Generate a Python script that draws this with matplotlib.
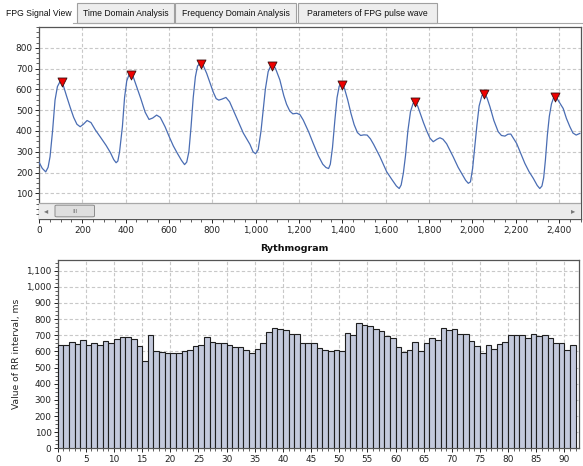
import matplotlib
matplotlib.use('Agg')
import matplotlib.pyplot as plt
from matplotlib.patches import Rectangle, FancyBboxPatch
from matplotlib.ticker import MultipleLocator, FuncFormatter, FixedLocator
import numpy as np

W, H = 583, 466

# ---------------- data ----------------
active_tab = "FPG Signal View"
tab_labels = ["Time Domain Analysis", "Frequency Domain Analysis", "Parameters of FPG pulse wave"]

signal_x = [0, 15, 31, 42, 51, 63, 74, 85, 97, 109, 128, 145, 160, 175, 190, 205, 222, 240, 260, 285,
            310, 330, 345, 356, 364, 372, 385, 395, 405, 415, 425, 435, 450, 470, 490, 508, 525, 543,
            560, 582, 600, 620, 640, 658, 672, 682, 692, 702, 712, 722, 732, 745, 758, 774, 790, 805,
            818, 830, 845, 863, 880, 897, 920, 943, 960, 974, 988, 1000, 1012, 1025, 1035, 1045, 1058,
            1070, 1080, 1092, 1112, 1130, 1143, 1158, 1172, 1190, 1205, 1220, 1245, 1266, 1290, 1310,
            1325, 1337, 1345, 1355, 1366, 1376, 1386, 1397, 1410, 1425, 1440, 1455, 1470, 1485, 1500,
            1515, 1530, 1545, 1574, 1605, 1630, 1650, 1663, 1672, 1682, 1692, 1703, 1715, 1727, 1737,
            1748, 1760, 1775, 1790, 1805, 1820, 1837, 1851, 1865, 1882, 1912, 1935, 1951, 1970, 1982,
            1992, 2002, 2012, 2022, 2032, 2045, 2056, 2068, 2082, 2100, 2120, 2135, 2151, 2165, 2178,
            2190, 2205, 2225, 2243, 2262, 2282, 2300, 2312, 2322, 2330, 2338, 2347, 2356, 2366, 2376,
            2386, 2398, 2420, 2435, 2451, 2465, 2480, 2497]
signal_y = [250, 220, 203, 225, 276, 404, 548, 613, 637, 629, 565, 510, 465, 432, 420, 432, 450, 440, 405, 368,
            330, 295, 262, 247, 255, 300, 420, 560, 640, 668, 675, 660, 615, 555, 490, 455, 462, 476,
            465, 420, 375, 328, 290, 258, 238, 250, 300, 420, 560, 660, 712, 727, 715, 677, 630, 585,
            555, 548, 553, 561, 540, 500, 445, 390, 360, 335, 300, 290, 310, 400, 500, 600, 685,
            713, 717, 700, 645, 570, 528, 495, 482, 485, 478, 452, 395, 340, 280, 240,
            224, 219, 240, 320, 452, 560, 615, 629, 605, 550, 485, 430, 392, 378, 381,
            380, 362, 335, 276, 204, 165, 135, 123, 140, 196, 280, 400, 492, 532, 540,
            520, 485, 440, 400, 365, 348, 360, 367, 360, 338, 276, 225, 196, 162, 148,
            155, 220, 324, 430, 520, 570, 580, 560, 516, 450, 396, 378, 375, 384, 385,
            365, 340, 290, 244, 205, 172, 138, 123, 135, 175, 260, 380, 470, 530, 560,
            565, 545, 508, 460, 420, 390, 380, 388]

peak_x = [105, 423, 748, 1078, 1400, 1738, 2056, 2384]
peak_y = [633, 668, 722, 710, 621, 537, 577, 561]

rr_values = [640, 640, 658, 648, 668, 640, 652, 640, 662, 652,
             678, 690, 690, 678, 632, 540, 702, 603, 598, 590,
             588, 588, 603, 608, 635, 640, 690, 658, 652, 652,
             640, 625, 625, 608, 592, 615, 652, 720, 748, 740,
             735, 706, 706, 650, 650, 650, 623, 609, 603, 609,
             603, 712, 702, 774, 762, 757, 737, 727, 693, 681,
             625, 594, 609, 656, 603, 650, 681, 671, 743, 733,
             741, 708, 708, 667, 636, 592, 640, 613, 644, 656,
             700, 704, 700, 681, 710, 696, 700, 681, 650, 650,
             607, 640]
rr_index = list(range(len(rr_values)))

rr_title = "Rythmogram"
rr_ylabel = "Value of RR interval, ms"

# ---------------- figure ----------------
fig = plt.figure(figsize=(W / 100, H / 100), dpi=100)
fig.patch.set_facecolor('white')


def fx(x):
    return x / W


def fy(y):
    return 1 - y / H


TICKFONT = 'DejaVu Sans'
TFS = 6.4
tabfont = 'Liberation Sans'
TABFS = 6.2
GRIDC = '#c8c8c8'

# tab strip
fig.add_artist(plt.Line2D([fx(73), fx(583)], [fy(22.5), fy(22.5)], color='#a8a8a8', lw=0.8,
                          transform=fig.transFigure))
fig.text(fx(5.5), fy(13.5), active_tab, fontsize=TABFS, family=tabfont, va='center', ha='left', color='#111111')
tab_edges = [(77, 174), (175, 296), (298, 437)]
for (x0, x1), lab in zip(tab_edges, tab_labels):
    r = Rectangle((fx(x0), fy(22.5)), fx(x1 - x0), (19 / H), transform=fig.transFigure,
                  facecolor='#eeeeee', edgecolor='#a0a0a0', lw=0.8)
    fig.add_artist(r)
    fig.text(fx((x0 + x1) / 2), fy(13.5), lab, fontsize=TABFS, family=tabfont, va='center', ha='center',
             color='#111111')

comma = FuncFormatter(lambda v, p: f"{v:,.0f}")

# ---------------- top chart ----------------
top_px, bot_px = 26.7, 219.3
ax1 = fig.add_axes([fx(39), fy(bot_px), (580.5 - 39) / W, (bot_px - top_px) / H])
ax1.set_xlim(0, 2500)
ax1.set_ylim(-25, 901)
ax1.set_axisbelow(True)
ax1.grid(True, which='major', color=GRIDC, lw=0.8, linestyle=(0, (3, 2)))
ax1.plot(signal_x, signal_y, color='#4a6db3', lw=0.9, zorder=3)
ax1.scatter(peak_x, peak_y, marker='v', s=42, facecolor='#ee0000', edgecolor='#3a1010', lw=0.6, zorder=4)
ax1.xaxis.set_major_locator(MultipleLocator(200))
ax1.xaxis.set_minor_locator(MultipleLocator(50))
ax1.xaxis.set_major_formatter(comma)
ax1.yaxis.set_major_locator(FixedLocator([100, 200, 300, 400, 500, 600, 700, 800]))
ax1.yaxis.set_minor_locator(FixedLocator(list(range(0, 901, 25))))
ax1.tick_params(axis='both', which='major', labelsize=TFS, length=3, width=0.7, pad=1.5, colors='#222222')
ax1.tick_params(axis='both', which='minor', length=2, width=0.6, colors='#444444')
for lab in ax1.get_xticklabels() + ax1.get_yticklabels():
    lab.set_family(TICKFONT)
for s in ax1.spines.values():
    s.set_color('#555555')
    s.set_linewidth(0.9)

# scrollbar (drawn in axes coordinates)
sb_frac = (bot_px - 202.7) / (bot_px - top_px)
ax1.add_patch(Rectangle((0, 0), 1, sb_frac, transform=ax1.transAxes, facecolor='#ebebeb',
                        edgecolor='none', zorder=5, clip_on=False))
ax1.plot([0, 1], [sb_frac, sb_frac], transform=ax1.transAxes, color='#a8a8a8', lw=0.9, zorder=6)
axw = 580.5 - 39
th0, th1 = (55 - 39) / axw, (94.5 - 39) / axw
ax1.add_patch(FancyBboxPatch((th0, sb_frac * 0.15), th1 - th0, sb_frac * 0.7,
                             boxstyle='round,pad=0,rounding_size=0.004', transform=ax1.transAxes,
                             facecolor='#dedede', edgecolor='#8c8c8c', lw=0.7, zorder=7))
ax1.text((th0 + th1) / 2, sb_frac * 0.5, 'III', transform=ax1.transAxes, fontsize=4.5, color='#777777',
         ha='center', va='center', zorder=8)
ax1.text((46.5 - 39) / axw, sb_frac * 0.5, '\u25c2', transform=ax1.transAxes, fontsize=6, color='#777777',
         ha='center', va='center', zorder=8)
ax1.text((573.5 - 39) / axw, sb_frac * 0.5, '\u25b8', transform=ax1.transAxes, fontsize=6, color='#777777',
         ha='center', va='center', zorder=8)

# ---------------- bottom chart ----------------
ax2 = fig.add_axes([fx(57.7), fy(448.3), (578.5 - 57.7) / W, (448.3 - 260) / H])
ax2.set_xlim(0, 92.5)
ax2.set_ylim(0, 1166)
ax2.set_axisbelow(True)
ax2.grid(True, which='major', color=GRIDC, lw=0.8, linestyle=(0, (3, 2)))
ax2.bar(rr_index, rr_values, width=1.0, align='edge', facecolor='#c3c9dc', edgecolor='#1e1e1e',
        lw=0.8, zorder=3)
ax2.xaxis.set_major_locator(MultipleLocator(5))
ax2.xaxis.set_minor_locator(MultipleLocator(1))
ax2.yaxis.set_major_locator(MultipleLocator(100))
ax2.yaxis.set_minor_locator(MultipleLocator(25))
ax2.yaxis.set_major_formatter(comma)
ax2.tick_params(axis='both', which='major', labelsize=TFS, length=3, width=0.7, pad=1.5, colors='#222222')
ax2.tick_params(axis='both', which='minor', length=2, width=0.6, colors='#444444')
for lab in ax2.get_xticklabels() + ax2.get_yticklabels():
    lab.set_family(TICKFONT)
for s in ax2.spines.values():
    s.set_color('#555555')
    s.set_linewidth(0.9)
ax2.set_ylabel(rr_ylabel, fontsize=6.6, family=TICKFONT, color='#222222', labelpad=4)
fig.text(fx(294.5), fy(248.5), rr_title, fontsize=6.8, fontweight='bold', family=TICKFONT,
         ha='center', va='center', color='#111111')

fig.savefig('out.png', dpi=100, facecolor='white')
